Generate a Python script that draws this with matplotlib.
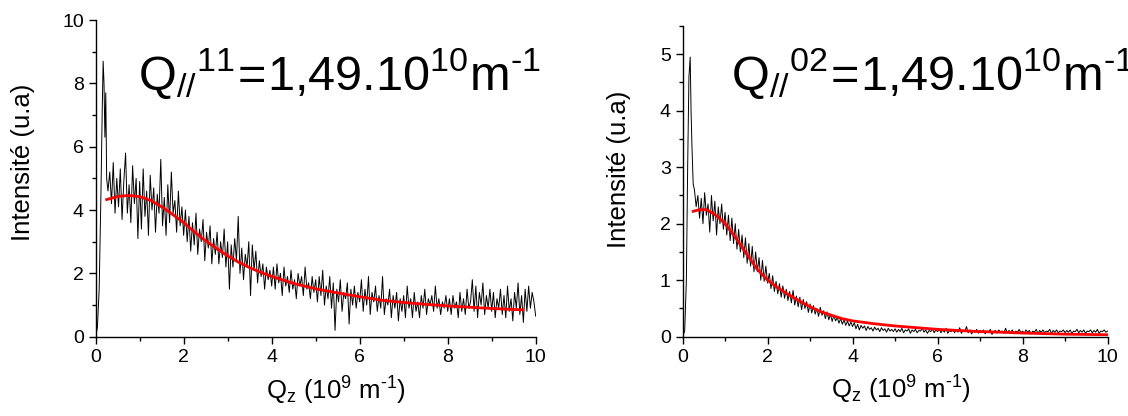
import numpy as np
import matplotlib
matplotlib.use("Agg")
import matplotlib.pyplot as plt
from matplotlib.ticker import MultipleLocator

plt.rcParams['font.family'] = ['Liberation Sans', 'DejaVu Sans']
plt.rcParams['mathtext.fontset'] = 'custom'
plt.rcParams['mathtext.rm'] = 'Liberation Sans'
plt.rcParams['mathtext.it'] = 'Liberation Sans:italic'
plt.rcParams['mathtext.bf'] = 'Liberation Sans:bold'

# ---------------- data: left panel (Q// 11) ----------------
left_peak_q = [0.0, 0.04, 0.08, 0.12, 0.15, 0.17, 0.19, 0.21, 0.23, 0.25]
left_peak_i = [0.0, 0.3, 1.5, 4.5, 7.2, 8.7, 8.0, 6.3, 7.7, 5.0]

qz_start = 0.28
qz_step = 0.04
left_noise = [
    4.6, 5.2, 4.2, 5.5, 3.9, 5.0, 4.1, 5.3, 3.7, 4.9, 5.8, 3.9, 4.8, 3.6, 5.4, 4.2, 5.0, 3.1,
    4.9, 3.4, 5.3, 3.8, 4.6, 3.2, 5.1, 4.0, 4.7, 3.3, 4.5, 3.9, 5.6, 3.5, 4.4, 3.2, 4.8, 3.6, 5.2, 3.9, 4.3, 3.3, 4.6, 3.5, 4.1,
    3.2, 4.0, 3.0, 3.8, 2.7, 3.6, 2.9, 3.9, 2.6, 3.4, 3.0, 3.7, 2.4, 3.3, 2.8, 3.5, 2.3, 3.1, 2.6, 3.3, 2.3, 3.0, 2.5, 3.4, 2.2,
    3.0, 1.5, 2.9, 2.2, 3.1, 2.4, 3.8, 2.0, 2.8, 1.8, 2.6, 2.2, 3.0, 1.3, 2.9, 2.1, 2.7, 1.7, 2.4, 1.9, 2.3, 1.5, 2.2, 1.8, 2.1,
    1.6, 2.2, 1.5, 2.3, 1.7, 2.0, 1.3, 2.2, 1.6, 1.9, 1.4, 2.1, 1.5, 1.8, 1.2, 2.0, 1.6, 1.9, 1.3, 2.2, 1.5, 1.7, 1.2, 1.9, 1.4,
    1.8, 1.1, 1.9, 1.3, 2.1, 1.0, 1.6, 1.2, 1.9, 0.9, 1.7, 0.2, 1.5, 1.1, 1.8, 0.8, 1.4, 1.2, 1.7, 0.4, 1.5, 1.0, 1.6, 0.9, 1.4,
    1.1, 1.8, 0.8, 1.5, 1.0, 1.9, 0.7, 1.4, 1.1, 1.6, 0.8, 1.3, 0.9, 1.9, 0.7, 1.2, 1.0, 1.5, 0.6, 1.3, 0.9, 1.4, 0.5, 1.2, 0.8,
    1.3, 0.6, 1.6, 0.9, 1.2, 0.6, 1.4, 0.8, 1.1, 0.6, 1.3, 0.9, 1.5, 0.7, 1.2, 1.0, 1.3, 0.8, 1.6, 0.9, 1.2, 0.7, 1.1, 0.9, 1.3,
    0.8, 1.2, 0.7, 1.3, 0.9, 1.1, 0.6, 1.4, 0.8, 1.2, 0.7, 1.5, 0.9, 1.1, 1.8, 0.8, 1.6, 0.6, 1.4, 1.0, 1.7, 0.7, 1.3, 0.9, 1.5,
    0.8, 1.4, 0.6, 1.2, 0.9, 1.5, 0.7, 1.3, 0.6, 1.6, 0.8, 1.2, 0.5, 1.4, 0.9, 1.7, 0.7, 1.3, 0.45, 1.5, 0.8, 1.6, 0.9, 1.4, 1.1, 0.65,
]

left_fit_q = [0.25, 0.5, 0.75, 1.0, 1.25, 1.5, 1.75, 2.0, 2.25, 2.5, 2.75, 3.0, 3.25, 3.5,
              3.75, 4.0, 4.5, 5.0, 5.5, 6.0, 6.5, 7.0, 7.5, 8.0, 8.5, 9.0, 9.5, 9.7]
left_fit_i = [4.33, 4.43, 4.46, 4.42, 4.3, 4.1, 3.86, 3.6, 3.3, 3.02, 2.78, 2.55, 2.35, 2.18,
              2.03, 1.9, 1.68, 1.51, 1.38, 1.26, 1.15, 1.08, 1.02, 0.97, 0.93, 0.89, 0.86, 0.85]

# ---------------- data: right panel (Q// 02) ----------------
right_peak_q = [0.0, 0.05, 0.09, 0.12, 0.15, 0.18, 0.2, 0.22, 0.25]
right_peak_i = [0.0, 0.1, 1.0, 3.0, 4.6, 4.95, 4.0, 3.4, 2.7]

right_noise = [
    2.60, 2.30, 2.50, 2.10, 2.45, 2.00, 2.55, 2.15, 2.35, 1.85, 2.50, 2.05, 2.40, 1.80, 2.30, 2.00, 2.35, 1.90,
    2.20, 1.80, 2.15, 1.70, 2.10, 1.65, 2.00, 1.55, 1.90, 1.50, 1.80, 1.40, 1.75, 1.30, 1.65, 1.25, 1.60, 1.15, 1.50, 1.15, 1.40, 1.00, 1.35, 0.98, 1.25,
    0.95, 1.12, 0.85, 1.08, 0.80, 0.98, 0.76, 0.94, 0.70, 0.90, 0.68, 0.84, 0.64, 0.80, 0.60, 0.82, 0.56, 0.72, 0.53, 0.70, 0.48, 0.66, 0.50, 0.62, 0.43,
    0.58, 0.42, 0.55, 0.40, 0.50, 0.36, 0.52, 0.38, 0.46, 0.32, 0.44, 0.30, 0.40, 0.27, 0.38, 0.28, 0.34, 0.24, 0.32, 0.22, 0.30, 0.20, 0.28, 0.19, 0.26,
    0.18, 0.25, 0.14, 0.22, 0.12, 0.20, 0.15, 0.19, 0.11, 0.18, 0.13, 0.16, 0.10, 0.17, 0.12, 0.15, 0.09, 0.16, 0.11, 0.14, 0.08, 0.15, 0.10, 0.13, 0.09,
    0.14, 0.08, 0.13, 0.09, 0.15, 0.07, 0.12, 0.10, 0.14, 0.06, 0.12, 0.09, 0.13, 0.07, 0.11, 0.10, 0.15, 0.08, 0.12, 0.06, 0.11, 0.09, 0.14, 0.07, 0.12,
    0.09, 0.13, 0.07, 0.12, 0.08, 0.15, 0.06, 0.11, 0.09, 0.13, 0.07, 0.12, 0.08, 0.16, 0.06, 0.11, 0.09, 0.18, 0.07, 0.12, 0.05, 0.10, 0.08, 0.13, 0.06,
    0.11, 0.07, 0.12, 0.05, 0.10, 0.08, 0.13, 0.04, 0.09, 0.11, 0.06, 0.12, 0.08, 0.10, 0.06, 0.15, 0.07, 0.11, 0.08, 0.12, 0.05, 0.10, 0.08, 0.13, 0.07,
    0.10, 0.06, 0.12, 0.08, 0.11, 0.05, 0.10, 0.08, 0.13, 0.06, 0.11, 0.08, 0.12, 0.07, 0.10, 0.09, 0.13, 0.06, 0.11, 0.08, 0.12, 0.07, 0.10, 0.09, 0.12,
    0.07, 0.11, 0.08, 0.12, 0.06, 0.10, 0.09, 0.13, 0.07, 0.11, 0.08, 0.12, 0.06, 0.10, 0.09, 0.12, 0.07, 0.11, 0.08, 0.13, 0.06, 0.10, 0.09, 0.12, 0.08, 0.10,
]

right_fit_q = [0.25, 0.4, 0.55, 0.75, 1.0, 1.25, 1.5, 1.75, 2.0, 2.25, 2.5, 2.75, 3.0, 3.25,
               3.5, 3.75, 4.0, 4.5, 5.0, 5.5, 6.0, 6.5, 7.0, 7.5, 8.0, 8.5, 9.0, 9.5, 10.0]
right_fit_i = [2.22, 2.25, 2.25, 2.17, 2.0, 1.75, 1.47, 1.2, 1.0, 0.86, 0.74, 0.63, 0.53, 0.44,
               0.38, 0.32, 0.28, 0.23, 0.19, 0.16, 0.13, 0.11, 0.09, 0.08, 0.065, 0.055, 0.045, 0.04, 0.035]

titles = [r'$\mathregular{Q_{//}{}^{11}\!=\!1{,}49.10^{10}m^{\text{-1}}}$',
          r'$\mathregular{Q_{//}{}^{02}\!=\!1{,}49.10^{10}m^{\text{-1}}}$']
xlabel = r'$\mathregular{Q_z\ (10^9\ m^{\text{-1}})}$'
ylabel = 'Intensité (u.a)'

fig = plt.figure(figsize=(11.28, 4.16), dpi=100)
axL = fig.add_axes([0.0848, 0.1906, 0.3901, 0.7613])
axR = fig.add_axes([0.6051, 0.1906, 0.3768, 0.7469])


def series(peak_q, peak_i, noise):
    q = list(peak_q) + list(qz_start + qz_step * np.arange(len(noise)))
    i = list(peak_i) + list(noise)
    return q, i


for ax, pq, pi, nz, fq, fi, ymax, ymaj, title, tpos, ylc, xlc in [
        (axL, left_peak_q, left_peak_i, left_noise, left_fit_q, left_fit_i, 10, 2,
         titles[0], (0.96, 7.8), (-0.138, 0.55), (0.545, -0.12)),
        (axR, right_peak_q, right_peak_i, right_noise, right_fit_q, right_fit_i, 5.5, 1,
         titles[1], (1.14, 4.37), (-0.122, 0.54), (0.514, -0.12))]:
    q, i = series(pq, pi, nz)
    ax.plot(q, i, color='black', lw=0.7, zorder=2)
    ax.plot(fq, fi, color='#ff0000', lw=2.0, zorder=3)
    ax.set_xlim(0, 10)
    ax.set_ylim(0, ymax)
    ax.xaxis.set_major_locator(MultipleLocator(2))
    ax.xaxis.set_minor_locator(MultipleLocator(1))
    ax.yaxis.set_major_locator(MultipleLocator(ymaj))
    ax.yaxis.set_minor_locator(MultipleLocator(ymaj / 2))
    for s in ['top', 'right']:
        ax.spines[s].set_visible(False)
    for s in ['left', 'bottom']:
        ax.spines[s].set_linewidth(1.0)
    ax.tick_params(which='major', direction='out', length=5, width=1.0, labelsize=14)
    ax.tick_params(which='minor', direction='out', length=3, width=1.0)
    ax.set_ylabel(ylabel, fontsize=18.5)
    ax.yaxis.set_label_coords(*ylc)
    ax.set_xlabel(xlabel, fontsize=18.5)
    ax.xaxis.set_label_coords(*xlc)
    ax.text(tpos[0], tpos[1], title, fontsize=35, ha='left', va='baseline', clip_on=False)

fig.savefig('out.png', dpi=100)
